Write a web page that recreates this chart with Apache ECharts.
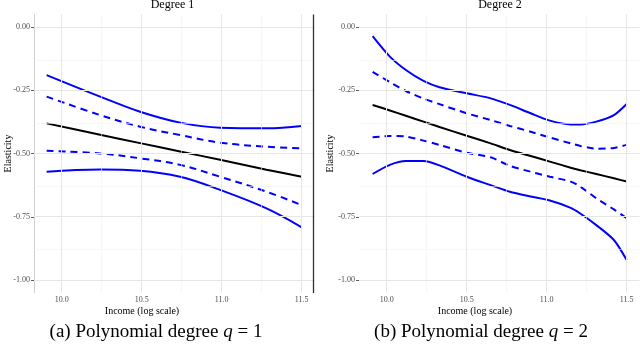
<!DOCTYPE html>
<html><head><meta charset="utf-8">
<script src="https://cdn.jsdelivr.net/npm/echarts@6/dist/echarts.min.js"></script>
<style>html,body{margin:0;padding:0;background:#fff}#c{width:640px;height:348px}</style>
</head><body><div id="c"></div>
<script>
// ---- data ----
var xTicks = [10.0, 10.5, 11.0, 11.5];
var xMinor = [10.25, 10.75, 11.25];
var yTicks = [0, -0.25, -0.5, -0.75, -1.0];
var yMinor = [-0.125, -0.375, -0.625, -0.875];

// Degree 1 panel
var xDeg1 = [9.906, 10.24, 10.49, 10.74, 10.99, 11.28, 11.5];
var fitDeg1 = [-0.381, -0.426, -0.459, -0.492, -0.525, -0.564, -0.592];
var upper95Deg1 = [-0.190, -0.275, -0.335, -0.378, -0.398, -0.400, -0.391];
var upper90Deg1 = [-0.275, -0.348, -0.394, -0.427, -0.457, -0.473, -0.480];
var lower90Deg1 = [-0.489, -0.500, -0.519, -0.545, -0.592, -0.651, -0.704];
var lower95Deg1 = [-0.572, -0.563, -0.568, -0.592, -0.644, -0.717, -0.792];

// Degree 2 panel
var xDeg2 = [9.912, 10.02, 10.12, 10.23, 10.33, 10.5, 10.65, 10.77, 10.9, 11.02, 11.15, 11.21, 11.31, 11.42, 11.5];
var fitDeg2 = [-0.308, -0.330, -0.351, -0.374, -0.395, -0.430, -0.460, -0.486, -0.510, -0.532, -0.556, -0.566, -0.581, -0.598, -0.611];
var upper95Deg2 = [-0.036, -0.117, -0.170, -0.213, -0.238, -0.262, -0.282, -0.308, -0.341, -0.370, -0.385, -0.385, -0.374, -0.348, -0.304];
var upper90Deg2 = [-0.177, -0.218, -0.253, -0.283, -0.305, -0.341, -0.368, -0.391, -0.414, -0.437, -0.460, -0.470, -0.481, -0.478, -0.466];
var lower90Deg2 = [-0.436, -0.431, -0.433, -0.449, -0.466, -0.497, -0.515, -0.549, -0.572, -0.592, -0.611, -0.631, -0.677, -0.721, -0.756];
var lower95Deg2 = [-0.581, -0.545, -0.530, -0.530, -0.547, -0.592, -0.625, -0.651, -0.670, -0.686, -0.715, -0.737, -0.783, -0.842, -0.921];

var FONT = 'Liberation Serif';
function pairs(xs, ys){ return xs.map(function(x,i){ return [x, ys[i]]; }); }

function gridLineSeries(idx){
  var d = [];
  xMinor.forEach(function(v){ d.push({xAxis: v, lineStyle:{color:'#f2f2f2', width:0.6}}); });
  yMinor.forEach(function(v){ d.push({yAxis: v, lineStyle:{color:'#f2f2f2', width:0.6}}); });
  xTicks.forEach(function(v){ d.push({xAxis: v, lineStyle:{color:'#e6e6e6', width:1}}); });
  yTicks.forEach(function(v){ d.push({yAxis: v, lineStyle:{color:'#e6e6e6', width:1}}); });
  return {
    type:'line', xAxisIndex: idx, yAxisIndex: idx, data: [], z: 1, silent: true,
    markLine: { silent: true, symbol: ['none','none'], label:{show:false}, animation:false,
      lineStyle:{type:'solid'}, data: d }
  };
}
function lineSeries(idx, xs, ys, color, dashed, smooth){
  return {
    type:'line', xAxisIndex: idx, yAxisIndex: idx, data: pairs(xs, ys), showSymbol:false,
    smooth: smooth, z: 3, silent: true,
    lineStyle:{ color: color, width: 2, type: dashed ? [7,5] : 'solid' }
  };
}
function xAxisDef(idx){
  return {
    type:'value', gridIndex: idx, min: 9.827, max: 11.58,
    splitLine:{show:false}, axisLine:{show:false},
    axisTick:{show:true, length:3, customValues: xTicks, lineStyle:{color:'#333', width:0.8}},
    axisLabel:{customValues: xTicks, fontFamily: FONT, fontSize: 8, color:'#4d4d4d', margin: 3,
      formatter: function(v){ return v.toFixed(1); }}
  };
}
function yAxisDef(idx, showLine, gap){
  return {
    type:'value', gridIndex: idx, min: -1.05, max: 0.05,
    splitLine:{show:false},
    axisLine:{show: showLine, lineStyle:{color:'#d0d0d0', width:1}},
    axisTick:{show:true, length:3, customValues: yTicks, lineStyle:{color:'#333', width:0.8}},
    axisLabel:{customValues: yTicks, fontFamily: FONT, fontSize: 8, color:'#4d4d4d', margin: 4,
      formatter: function(v){ return v.toFixed(2); }},
    name: 'Elasticity', nameLocation:'middle', nameRotate: 90, nameGap: gap, nameMoveOverlap: false,
    nameTextStyle:{fontFamily: FONT, fontSize: 10, color:'#000'}
  };
}

var chart = echarts.init(document.getElementById('c'), null, {renderer:'canvas'});
chart.setOption({
  animation:false,
  backgroundColor:'#fff',
  grid:[
    {left:34, right:325.5, top:14.35, bottom:55.35},
    {left:359, right:0.5, top:14.35, bottom:55.35}
  ],
  xAxis:[xAxisDef(0), xAxisDef(1)],
  yAxis:[yAxisDef(0, true, 21), yAxisDef(1, false, 24)],
  series:[
    gridLineSeries(0), gridLineSeries(1),
    lineSeries(0, xDeg1, upper95Deg1, '#0000ff', false, 0.4),
    lineSeries(0, xDeg1, upper90Deg1, '#0000ff', true, 0.4),
    lineSeries(0, xDeg1, lower90Deg1, '#0000ff', true, 0.4),
    lineSeries(0, xDeg1, lower95Deg1, '#0000ff', false, 0.4),
    lineSeries(0, xDeg1, fitDeg1, '#000000', false, 0.2),
    lineSeries(1, xDeg2, upper95Deg2, '#0000ff', false, 0.25),
    lineSeries(1, xDeg2, upper90Deg2, '#0000ff', true, 0.25),
    lineSeries(1, xDeg2, lower90Deg2, '#0000ff', true, 0.25),
    lineSeries(1, xDeg2, lower95Deg2, '#0000ff', false, 0.25),
    lineSeries(1, xDeg2, fitDeg2, '#000000', false, 0.2)
  ],
  graphic:[
    {type:'line', shape:{x1:313.5, y1:14.5, x2:313.5, y2:293}, style:{stroke:'#333', lineWidth:1.3}, z:10},
    {type:'text', x:172.5, y:5, style:{text:'Degree 1', font:'12px "Liberation Serif"', fill:'#000', align:'center', verticalAlign:'middle'}},
    {type:'text', x:500, y:5, style:{text:'Degree 2', font:'12px "Liberation Serif"', fill:'#000', align:'center', verticalAlign:'middle'}},
    {type:'text', x:142, y:311, style:{text:'Income (log scale)', font:'10px "Liberation Serif"', fill:'#000', align:'center', verticalAlign:'middle'}},
    {type:'text', x:475, y:311, style:{text:'Income (log scale)', font:'10px "Liberation Serif"', fill:'#000', align:'center', verticalAlign:'middle'}},
    {type:'text', x:156, y:332, style:{rich:{n:{font:'19px "Liberation Serif"', fill:'#000'}, i:{font:'italic 19px "Liberation Serif"', fill:'#000'}}, text:'{n|(a) Polynomial degree }{i|q}{n| = 1}', align:'center', verticalAlign:'middle'}},
    {type:'text', x:481, y:332, style:{rich:{n:{font:'19px "Liberation Serif"', fill:'#000'}, i:{font:'italic 19px "Liberation Serif"', fill:'#000'}}, text:'{n|(b) Polynomial degree }{i|q}{n| = 2}', align:'center', verticalAlign:'middle'}}
  ]
});
</script></body></html>
